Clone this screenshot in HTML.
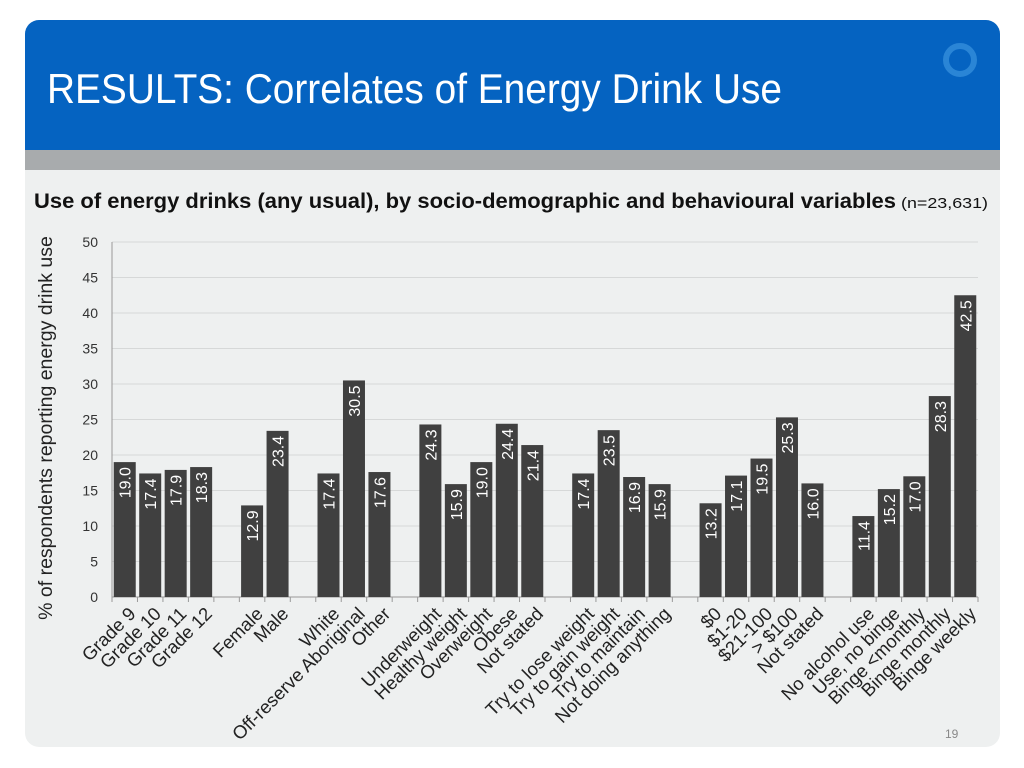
<!DOCTYPE html>
<html><head><meta charset="utf-8"><style>
body{margin:0;width:1024px;height:768px;background:#fff;overflow:hidden;font-family:"Liberation Sans",sans-serif}
svg{display:block}
</style></head><body>
<svg width="1024" height="768" viewBox="0 0 1024 768">
<defs><clipPath id="c"><rect x="25" y="20" width="975" height="727" rx="14"/></clipPath></defs>
<g clip-path="url(#c)">
<rect x="25" y="20" width="975" height="727" fill="#eef0f0"/>
<rect x="25" y="20" width="975" height="130" fill="#0563c1"/>
<rect x="25" y="150" width="975" height="20" fill="#a8abad"/>
<circle cx="960" cy="60" r="14" fill="none" stroke="#2a85d6" stroke-width="6"/>
</g>
<text x="47" y="103" font-family="Liberation Sans Narrow, Liberation Sans, sans-serif" font-size="42" fill="#fff" textLength="735" lengthAdjust="spacingAndGlyphs">RESULTS: Correlates of Energy Drink Use</text>
<text x="34" y="208" font-family="Liberation Sans Narrow, Liberation Sans, sans-serif" font-size="21" font-weight="bold" fill="#111" textLength="862" lengthAdjust="spacingAndGlyphs">Use of energy drinks (any usual), by socio-demographic and behavioural variables</text>
<text x="901" y="208" font-family="Liberation Sans Narrow, Liberation Sans, sans-serif" font-size="15" fill="#111" textLength="87" lengthAdjust="spacingAndGlyphs">(n=23,631)</text>
<text x="945" y="738" font-size="12" fill="#888">19</text>
<text transform="translate(52,428) rotate(-90)" text-anchor="middle" font-size="19.5" fill="#222">% of respondents reporting energy drink use</text>
<g id="chart"></g>
</svg>
<script>
const categories=["Grade 9","Grade 10","Grade 11","Grade 12","","Female","Male","","White","Off-reserve Aboriginal","Other","","Underweight","Healthy weight","Overweight","Obese","Not stated","","Try to lose weight","Try to gain weight","Try to maintain","Not doing anything","","$0","$1-20","$21-100","> $100","Not stated","","No alcohol use","Use, no binge","Binge <monthly","Binge monthly","Binge weekly"];
const values=[19.0,17.4,17.9,18.3,null,12.9,23.4,null,17.4,30.5,17.6,null,24.3,15.9,19.0,24.4,21.4,null,17.4,23.5,16.9,15.9,null,13.2,17.1,19.5,25.3,16.0,null,11.4,15.2,17.0,28.3,42.5];
const yTicks=[0,5,10,15,20,25,30,35,40,45,50];
const NS="http://www.w3.org/2000/svg";
const g=document.getElementById('chart');
const X0=112,X1=978,Y0=597,Y1=242,YMAX=50;
const slot=(X1-X0)/categories.length;
const y=v=>Y0-(v/YMAX)*(Y0-Y1);
const x=i=>X0+slot*(i+0.5);
function mk(t,a){const e=document.createElementNS(NS,t);for(const k in a)e.setAttribute(k,a[k]);g.appendChild(e);return e;}
yTicks.forEach(t=>{
  const l=mk('line',{x1:X0,x2:X1,y1:y(t),y2:y(t),stroke:t===0?'#999':'#d6d8d8','stroke-width':1});
  
  
  const tx=mk('text',{x:X0-14,y:y(t)+5,'text-anchor':'end','font-size':14,fill:'#333'});
  tx.textContent=t;
  
  
});
mk('line',{x1:X0,x2:X0,y1:Y1,y2:Y0,stroke:'#999'});
for(let i=0;i<=categories.length;i++){
  const tk=mk('line',{x1:X0+slot*i,x2:X0+slot*i,y1:Y0,y2:Y0+5,stroke:'#999'});
  
  
}
categories.forEach((c,i)=>{
  const v=values[i];
  if(v!==null){
    const r=mk('rect',{x:x(i)-11,y:y(v),width:22,height:Y0-y(v),fill:'#404040'});
    
    
    const t=mk('text',{transform:`translate(${x(i)+6},${y(v)+5}) rotate(-90)`,'text-anchor':'end','font-size':16,fill:'#fff'});
    t.textContent=v.toFixed(1);
    
    
  }
  if(c){
    const t=mk('text',{transform:`translate(${x(i)+12},${Y0+18}) rotate(-45)`,'text-anchor':'end','font-size':18.5,fill:'#222'});
    t.textContent=c;
    
    
  }
});
</script>
</body></html>
